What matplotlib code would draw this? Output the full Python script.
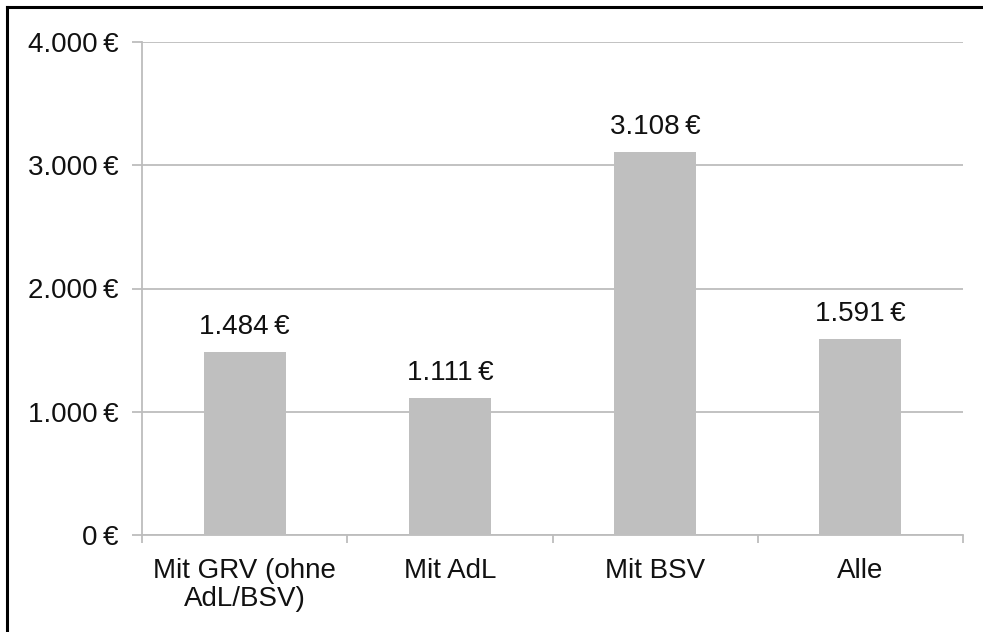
import matplotlib
matplotlib.use("Agg")
import matplotlib.pyplot as plt
from matplotlib.lines import Line2D
from matplotlib.ticker import FuncFormatter

categories = ["Mit GRV (ohne\nAdL/BSV)", "Mit AdL", "Mit BSV", "Alle"]
values = [1484, 1111, 3108, 1591]
yticks = [0, 1000, 2000, 3000, 4000]

plt.rcParams['font.family'] = ['Liberation Sans', 'DejaVu Sans']

def fmt(v):
    return f"{int(v):,}".replace(",", ".") + "\u2009€"

fig = plt.figure(figsize=(9.83, 6.32), dpi=100)
W, H = 983, 632
ax = fig.add_axes([142 / W, 1 - 535 / H, (963 - 142) / W, (535 - 42) / H])

grid_c = "#bdbdbd"
bar_c = "#bfbfbf"
txt_c = "#111111"
fs = 20
x = list(range(len(categories)))
ax.bar(x, values, width=0.4, color=bar_c, zorder=3)
ax.set_xlim(-0.5, len(categories) - 0.5)
ax.set_ylim(0, 4000)
ax.set_yticks(yticks)
ax.yaxis.set_major_formatter(FuncFormatter(lambda v, p: fmt(v)))
ax.grid(axis='y', color=grid_c, linewidth=1.3, zorder=0)

ax.set_xticks(x)
ax.set_xticklabels(categories, fontsize=fs, color=txt_c, linespacing=1.12)
ax.tick_params(axis='x', length=0, pad=16.5)
ax.set_xticks([i - 0.5 for i in range(len(categories) + 1)], minor=True)
ax.tick_params(axis='x', which='minor', length=6, color=grid_c, width=1.3, direction='out')
ax.tick_params(axis='y', length=7, color=grid_c, width=1.3, labelsize=fs, labelcolor=txt_c, pad=10)

for s in ['top', 'right']:
    ax.spines[s].set_visible(False)
for s in ['left', 'bottom']:
    ax.spines[s].set_color(grid_c)
    ax.spines[s].set_linewidth(1.3)

for xi, v in zip(x, values):
    ax.annotate(fmt(v), (xi, v), xytext=(0, 8.5), textcoords='offset points',
                ha='center', va='bottom', fontsize=fs, color=txt_c)

# frame border (top and left)
fig.add_artist(Line2D([7 / W, 1.0], [1 - 7 / H, 1 - 7 / H], color='black', linewidth=2.2, transform=fig.transFigure))
fig.add_artist(Line2D([7 / W, 7 / W], [0.0, 1 - 7 / H], color='black', linewidth=2.2, transform=fig.transFigure))

fig.savefig("out.png", dpi=100)
